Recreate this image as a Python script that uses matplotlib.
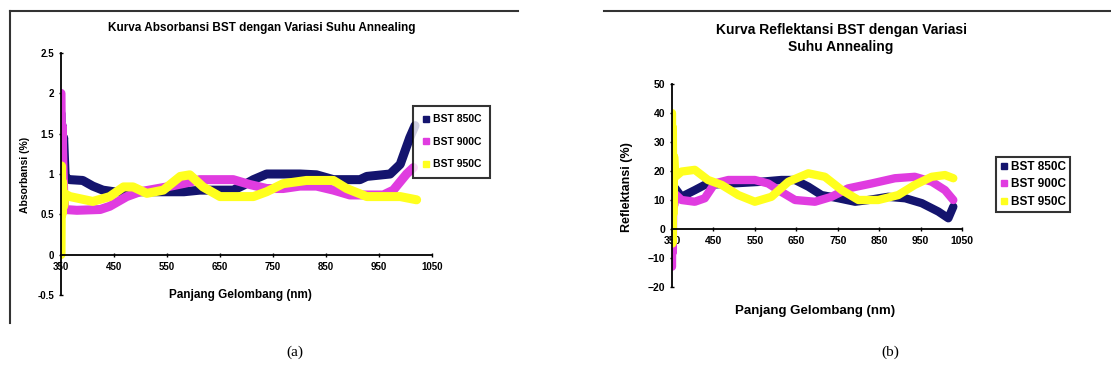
import matplotlib
matplotlib.use("Agg")
import matplotlib.pyplot as plt
from matplotlib.lines import Line2D

# ---- panel (a): absorbance ----
abs_title = "Kurva Absorbansi BST dengan Variasi Suhu Annealing"
abs_ylabel = "Absorbansi (%)"
abs_xlabel = "Panjang Gelombang (nm)"
abs_yticks = [-0.5, 0, 0.5, 1, 1.5, 2, 2.5]
abs_yticklabels = ["-0.5", "0", "0.5", "1", "1.5", "2", "2.5"]

abs_850_x = [350, 351, 352, 353, 355, 358, 367, 391, 410, 429, 450, 486, 550, 582,
             612, 675, 694, 713, 738, 801, 832, 864, 914, 927, 971, 990, 1008, 1018]
abs_850_y = [1.75, 1.2, 1.6, 1.3, 1.45, 0.95, 0.93, 0.92, 0.85, 0.8, 0.78, 0.78, 0.78, 0.78,
             0.8, 0.8, 0.86, 0.93, 1.0, 1.0, 0.99, 0.93, 0.93, 0.97, 1.0, 1.12, 1.45, 1.6]

abs_900_x = [350, 351, 352, 353, 355, 357, 380, 424, 442, 474, 499, 550, 587, 612,
             675, 706, 738, 769, 801, 832, 864, 895, 958, 977, 1002, 1015]
abs_900_y = [2.0, 1.2, 1.6, 1.3, 0.8, 0.56, 0.55, 0.56, 0.6, 0.72, 0.78, 0.84, 0.89, 0.93,
             0.93, 0.87, 0.82, 0.82, 0.85, 0.85, 0.8, 0.74, 0.74, 0.8, 1.0, 1.08]

abs_950_x = [350, 351, 352, 353, 355, 358, 367, 410, 442, 468, 486, 512, 543, 575, 593,
             618, 650, 688, 713, 738, 769, 813, 864, 889, 927, 990, 1021]
abs_950_y = [0.0, 1.1, 0.5, 0.9, 0.6, 0.75, 0.72, 0.66, 0.72, 0.84, 0.84, 0.76, 0.8, 0.97, 0.99,
             0.84, 0.72, 0.72, 0.72, 0.78, 0.88, 0.92, 0.92, 0.82, 0.72, 0.72, 0.68]

# ---- panel (b): reflectance ----
ref_title = "Kurva Reflektansi BST dengan Variasi\nSuhu Annealing"
ref_ylabel = "Reflektansi (%)"
ref_xlabel = "Panjang Gelombang (nm)"
ref_yticks = [-20, -10, 0, 10, 20, 30, 40, 50]

ref_850_x = [350, 351, 352, 353, 355, 358, 373, 405, 429, 470, 566, 614, 647, 679,
             711, 752, 792, 824, 872, 913, 953, 993, 1017, 1029]
ref_850_y = [-4, 28, 5, 20, 12, 14, 11.1, 13.4, 15.2, 15.5, 16.3, 16.9, 16.9, 14.6,
             11.7, 10.6, 9.4, 10.0, 11.1, 10.6, 8.9, 6.0, 3.7, 7.7]

ref_900_x = [350, 351, 352, 353, 355, 358, 373, 405, 429, 453, 486, 550, 582, 614, 647,
             695, 735, 775, 832, 888, 936, 977, 1009, 1029]
ref_900_y = [-13, 25, -8, 18, 8, 12, 10.0, 9.4, 10.6, 15.7, 16.9, 16.9, 15.7, 12.8, 10.0,
             9.4, 11.1, 14.0, 15.7, 17.5, 18.0, 16.3, 13.4, 10.0]

ref_950_x = [350, 351, 352, 353, 355, 358, 373, 405, 437, 470, 510, 550, 590, 631, 679,
             719, 760, 800, 848, 896, 936, 977, 1009, 1029]
ref_950_y = [40, -5, 35, 5, 25, 18, 19.8, 20.4, 16.9, 15.2, 11.7, 9.4, 11.1, 16.3, 19.2,
             18.0, 13.4, 10.0, 10.0, 11.7, 15.2, 18.0, 18.6, 17.5]

x_ticks = [350, 450, 550, 650, 750, 850, 950, 1050]
series_labels = ["BST 850C", "BST 900C", "BST 950C"]
series_colors = ["#14146e", "#e03ce0", "#ffff1e"]

W, H = 1111, 379
fig = plt.figure(figsize=(W / 100, H / 100), dpi=100)
plt.rcParams['font.family'] = ['Liberation Sans', 'DejaVu Sans']


def box(l, t, r, b):
    # pixel box -> figure fraction
    return [l / W, 1 - b / H, (r - l) / W, (b - t) / H]


def style_axis(ax, size):
    for s in ['top', 'right']:
        ax.spines[s].set_visible(False)
    ax.spines['bottom'].set_position(('data', 0))
    ax.spines['left'].set_linewidth(1.3)
    ax.spines['bottom'].set_linewidth(1.3)
    ax.tick_params(axis='both', labelsize=size, length=3, width=1, direction='inout')
    for lab in ax.get_xticklabels() + ax.get_yticklabels():
        lab.set_fontweight('bold')
    ax.patch.set_alpha(0)


# panel (a)
ax1 = fig.add_axes(box(61, 53, 432, 295))
for xs, ys, c in zip([abs_850_x, abs_900_x, abs_950_x],
                     [abs_850_y, abs_900_y, abs_950_y], series_colors):
    ax1.plot(xs, ys, color=c, lw=6.5, solid_joinstyle='round', solid_capstyle='round')
ax1.set_xlim(350, 1050)
ax1.set_ylim(-0.5, 2.5)
ax1.set_xticks(x_ticks)
ax1.set_yticks(abs_yticks)
ax1.set_yticklabels(abs_yticklabels)
style_axis(ax1, 7)

fig.text(262 / W, 1 - 28 / H, abs_title, ha='center', va='center', fontsize=8.5, fontweight='bold')
fig.text(25 / W, 1 - 175 / H, abs_ylabel, ha='center', va='center', rotation=90,
         fontsize=7.5, fontweight='bold')
fig.text(240 / W, 1 - 295 / H, abs_xlabel, ha='center', va='center', fontsize=8.5, fontweight='bold')

# panel (b)
ax2 = fig.add_axes(box(672, 84, 962, 287))
for xs, ys, c in zip([ref_850_x, ref_900_x, ref_950_x],
                     [ref_850_y, ref_900_y, ref_950_y], series_colors):
    ax2.plot(xs, ys, color=c, lw=6, solid_joinstyle='round', solid_capstyle='round')
ax2.set_xlim(350, 1050)
ax2.set_ylim(-20, 50)
ax2.set_xticks(x_ticks)
ax2.set_yticks(ref_yticks)
style_axis(ax2, 7.5)

fig.text(841 / W, 1 - 38.5 / H, ref_title, ha='center', va='center', fontsize=10,
         fontweight='bold', linespacing=1.2)
fig.text(627 / W, 1 - 187 / H, ref_ylabel, ha='center', va='center', rotation=90,
         fontsize=9, fontweight='bold')
fig.text(815 / W, 1 - 311 / H, ref_xlabel, ha='center', va='center', fontsize=9.5, fontweight='bold')

# legends
handles = [Line2D([], [], ls='none', marker='s', markersize=5, color=c) for c in series_colors]
leg1 = fig.legend(handles, series_labels, loc='upper left', bbox_to_anchor=(413 / W, 1 - 106 / H),
                  fontsize=7.5, frameon=True, fancybox=False, edgecolor='black', borderaxespad=0,
                  handlelength=0.8, handletextpad=0.3, labelspacing=1.2, borderpad=0.8)
leg1.get_frame().set_linewidth(1.5)
for t in leg1.get_texts():
    t.set_fontweight('bold')
leg2 = fig.legend(handles, series_labels, loc='upper left', bbox_to_anchor=(996 / W, 1 - 157 / H),
                  fontsize=8.5, frameon=True, fancybox=False, edgecolor='black', borderaxespad=0,
                  handlelength=0.6, handletextpad=0.3, labelspacing=0.45, borderpad=0.35)
leg2.get_frame().set_linewidth(1.5)
for t in leg2.get_texts():
    t.set_fontweight('bold')

# outer frames of the pasted chart images
fig.add_artist(Line2D([10 / W, 518 / W], [1 - 11 / H, 1 - 11 / H], color='#333333', lw=1.5))
fig.add_artist(Line2D([10 / W, 10 / W], [1 - 11 / H, 1 - 323 / H], color='#333333', lw=1.5))
fig.add_artist(Line2D([604 / W, 1 - 0.5 / W], [1 - 11 / H, 1 - 11 / H], color='#333333', lw=1.5))

# captions
fig.text(295 / W, 1 - 352 / H, "(a)", ha='center', va='center', fontsize=11, family='Liberation Serif')
fig.text(890 / W, 1 - 352 / H, "(b)", ha='center', va='center', fontsize=11, family='Liberation Serif')

fig.savefig("out.png", dpi=100)
